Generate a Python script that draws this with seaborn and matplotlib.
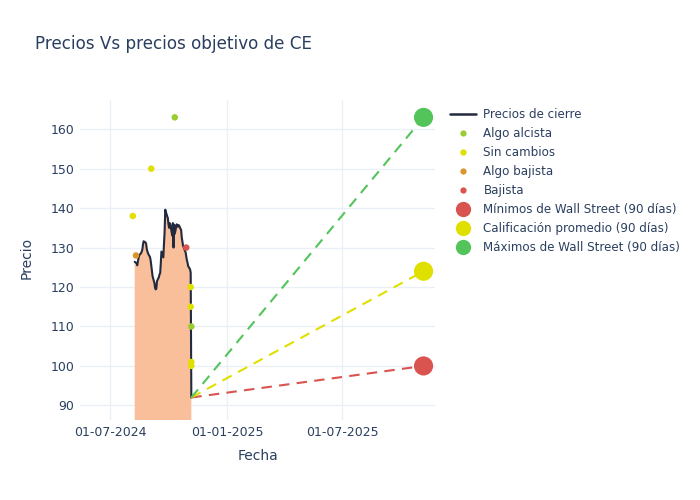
import matplotlib
matplotlib.use("Agg")
import matplotlib.pyplot as plt
import matplotlib.dates as mdates
from matplotlib.lines import Line2D
import seaborn as sns
import pandas as pd

# ---------------- data ----------------
price_start = "2024-08-09"
price_end = "2024-11-06"
close_prices = [
    126.4, 126.0, 125.5, 126.5, 127.3, 128.0, 128.6, 129.0, 129.5, 130.8,
    131.6, 131.3, 130.9, 129.6, 129.0, 128.5, 127.6, 126.8, 125.5, 124.2,
    122.8, 121.0, 119.8, 119.4, 119.6, 121.5, 122.5, 123.2, 123.5, 126.0,
    129.0, 127.5, 131.0, 134.0, 139.6, 139.0, 137.5, 136.0, 135.0, 136.2,
    135.8, 133.0, 136.2, 130.0, 135.8, 133.5, 135.9, 135.5, 135.3, 135.7,
    135.5, 134.4, 132.5, 131.5, 130.5, 130.0, 128.8, 127.8, 126.8, 126.2,
    125.3, 124.5, 123.6, 92.0,
]

rating_dates = ["2024-08-06", "2024-08-11", "2024-09-04", "2024-10-11", "2024-10-29",
                "2024-11-05", "2024-11-05", "2024-11-06", "2024-11-06", "2024-11-06"]
rating_targets = [138, 128, 150, 163, 130, 120, 115, 110, 101, 100]
rating_labels = ["Sin cambios", "Algo bajista", "Sin cambios", "Algo alcista", "Bajista",
                 "Sin cambios", "Sin cambios", "Algo alcista", "Sin cambios", "Sin cambios"]

rating_order = ["Algo alcista", "Sin cambios", "Algo bajista", "Bajista"]
rating_colors = ["#9acd32", "#e0e000", "#d9962b", "#d9534f"]

target_names = ["Mínimos de Wall Street (90 días)", "Calificación promedio (90 días)",
                "Máximos de Wall Street (90 días)"]
target_values = [100, 124, 163]
target_colors = ["#d9534f", "#e0e000", "#52c45a"]
target_date = "2025-11-06"

x_ticks = ["2024-07-01", "2025-01-01", "2025-07-01"]
y_ticks = [90, 100, 110, 120, 130, 140, 150, 160]

# ---------------- build frames ----------------
price_df = pd.DataFrame({
    "Fecha": pd.bdate_range(price_start, price_end),
    "Precio": close_prices,
})
rating_df = pd.DataFrame({
    "Fecha": pd.to_datetime(rating_dates),
    "Precio": rating_targets,
    "Calificación": rating_labels,
})
last_date = price_df["Fecha"].iloc[-1]
last_price = price_df["Precio"].iloc[-1]
tgt_df = pd.DataFrame({
    "Fecha": [pd.Timestamp(target_date)] * 3,
    "Precio": target_values,
    "Tipo": target_names,
})

# ---------------- style ----------------
sns.set_theme(style="white")
plt.rcParams["font.family"] = ["DejaVu Sans"]
text_color = "#2a3f5f"
grid_color = "#ebf0f8"

fig = plt.figure(figsize=(7, 5), dpi=100)
ax = fig.add_axes([80 / 700, 80 / 500, 355 / 700, 320 / 500])
ax.set_facecolor("white")

# fill + close line
ax.fill_between(price_df["Fecha"], price_df["Precio"], 0, color="#f9be9a", lw=0, zorder=2)
sns.lineplot(data=price_df, x="Fecha", y="Precio", ax=ax, color="#222a3f", lw=1.5,
             zorder=3, legend=False)

# target dashed lines
for v, c in zip(target_values, target_colors):
    ax.plot([last_date, pd.Timestamp(target_date)], [last_price, v], color=c, lw=1.5,
            dashes=(5, 3.5), zorder=3)

# rating points
sns.scatterplot(data=rating_df, x="Fecha", y="Precio", hue="Calificación",
                hue_order=rating_order, palette=rating_colors, s=22, linewidth=0,
                ax=ax, zorder=5, legend=False)

# target big markers
sns.scatterplot(data=tgt_df, x="Fecha", y="Precio", hue="Tipo", hue_order=target_names,
                palette=target_colors, s=190, linewidth=0, ax=ax, zorder=6, legend=False)

# axes
ax.set_xlim(pd.Timestamp("2024-05-15"), pd.Timestamp("2025-11-24"))
ax.set_ylim(86.3, 167.4)
ax.set_xticks(pd.to_datetime(x_ticks))
ax.xaxis.set_major_formatter(mdates.DateFormatter("%d-%m-%Y"))
ax.set_yticks(y_ticks)
ax.grid(True, color=grid_color, lw=1)
ax.set_axisbelow(True)
for s in ax.spines.values():
    s.set_visible(False)
ax.tick_params(axis="both", length=0, labelsize=9, colors=text_color, pad=4)
ax.set_xlabel("")
ax.set_ylabel("")
fig.text(258 / 700, 1 - 456 / 500, "Fecha", ha="center", va="center", fontsize=10,
         color=text_color)
fig.text(27 / 700, 1 - 258 / 500, "Precio", ha="center", va="center", fontsize=10,
         color=text_color, rotation=90)
fig.text(35 / 700, 1 - 44 / 500, "Precios Vs precios objetivo de CE", ha="left",
         va="center", fontsize=12.1, color=text_color)

# legend
handles = [Line2D([0], [0], color="#222a3f", lw=1.8)]
for c in rating_colors:
    handles.append(Line2D([0], [0], marker="o", color="none", markerfacecolor=c,
                          markeredgewidth=0, markersize=4.5))
for c in target_colors:
    handles.append(Line2D([0], [0], marker="o", color="none", markerfacecolor=c,
                          markeredgewidth=0, markersize=11))
labels = ["Precios de cierre"] + rating_order + target_names
leg = fig.legend(handles, labels, loc="upper left", bbox_to_anchor=(450 / 700, 1 - 108 / 500),
                 frameon=False, fontsize=8.6, labelspacing=0.5, handlelength=2.2,
                 handletextpad=0.6, borderaxespad=0, borderpad=0)
for t in leg.get_texts():
    t.set_color(text_color)

fig.savefig("out.png", dpi=100, facecolor="white")
